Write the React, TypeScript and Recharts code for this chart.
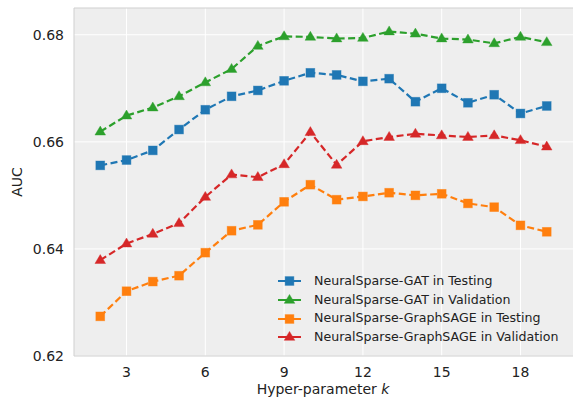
import React from 'react';
import {
  LineChart, Line, XAxis, YAxis, CartesianGrid, Label, ReferenceLine,
} from 'recharts';

const kValues = [2, 3, 4, 5, 6, 7, 8, 9, 10, 11, 12, 13, 14, 15, 16, 17, 18, 19];
const gatTesting = [0.6556, 0.6566, 0.6584, 0.6623, 0.6660, 0.6685, 0.6696, 0.6714, 0.6729, 0.6725, 0.6713, 0.6718, 0.6675, 0.6700, 0.6673, 0.6688, 0.6653, 0.6667];
const gatValidation = [0.6619, 0.6649, 0.6664, 0.6685, 0.6711, 0.6736, 0.6779, 0.6797, 0.6796, 0.6793, 0.6794, 0.6806, 0.6802, 0.6793, 0.6791, 0.6784, 0.6796, 0.6786];
const sageTesting = [0.6274, 0.6321, 0.6339, 0.6350, 0.6393, 0.6434, 0.6445, 0.6488, 0.6520, 0.6492, 0.6498, 0.6505, 0.6500, 0.6503, 0.6485, 0.6478, 0.6444, 0.6432];
const sageValidation = [0.6379, 0.6410, 0.6428, 0.6448, 0.6497, 0.6539, 0.6534, 0.6558, 0.6618, 0.6557, 0.6601, 0.6609, 0.6615, 0.6612, 0.6609, 0.6612, 0.6603, 0.6591];
const xTicks = [3, 6, 9, 12, 15, 18];
const yTicks = [0.62, 0.64, 0.66, 0.68];

const data = kValues.map((k, i) => ({
  k,
  gatTest: gatTesting[i],
  gatVal: gatValidation[i],
  sageTest: sageTesting[i],
  sageVal: sageValidation[i],
}));

const series = [
  { key: 'gatTest', name: 'NeuralSparse-GAT in Testing', color: '#1f77b4', marker: 'square' },
  { key: 'gatVal', name: 'NeuralSparse-GAT in Validation', color: '#2ca02c', marker: 'triangle' },
  { key: 'sageTest', name: 'NeuralSparse-GraphSAGE in Testing', color: '#ff7f0e', marker: 'square' },
  { key: 'sageVal', name: 'NeuralSparse-GraphSAGE in Validation', color: '#d62728', marker: 'triangle' },
];

const FONT = '"DejaVu Sans", sans-serif';

function Marker({ cx, cy, color, shape }: { cx: number; cy: number; color: string; shape: string }) {
  if (cx == null || cy == null) return null;
  if (shape === 'square') {
    return <rect x={cx - 4.4} y={cy - 4.4} width={8.8} height={8.8} fill={color} stroke={color} strokeOpacity={0.5} strokeWidth={0.8} />;
  }
  const r = 5.6;
  const pts = `${cx},${cy - r} ${cx + r * 0.95},${cy + r * 0.6} ${cx - r * 0.95},${cy + r * 0.6}`;
  return <polygon points={pts} fill={color} stroke={color} strokeOpacity={0.5} strokeWidth={0.8} />;
}

// drawn over the plot by hand, so it takes no room from the axes
function LegendBox() {
  return (
    <div style={{ position: 'absolute', left: 278, top: 272, fontFamily: FONT, fontSize: 12.6, color: '#222', lineHeight: 1 }}>
      {series.map((s) => (
        <div key={s.key} style={{ display: 'flex', alignItems: 'center', height: 18.7, whiteSpace: 'nowrap' }}>
          <svg width={36} height={14}>
            <line x1={0} y1={7} x2={23} y2={7} stroke={s.color} strokeWidth={2} />
            <Marker cx={11.5} cy={7} color={s.color} shape={s.marker} />
          </svg>
          <span>{s.name}</span>
        </div>
      ))}
    </div>
  );
}

export default function App() {
  return (
    <div style={{ position: 'relative', width: 573, height: 401, background: '#fff' }}>
      <style>{'body{margin:0}'}</style>
      <LineChart width={573} height={401} data={data} margin={{ top: 8, right: 0, left: 0, bottom: 0 }}>
        <CartesianGrid stroke="#ffffff" strokeWidth={1} fill="#eeeeee" verticalValues={xTicks} horizontalValues={yTicks} />
        <XAxis
          type="number"
          dataKey="k"
          domain={[1, 20]}
          ticks={xTicks}
          allowDataOverflow
          height={45}
          tickSize={0}
          tickMargin={11}
          tickLine={false}
          axisLine={{ stroke: '#cfcfcf', strokeWidth: 1 }}
          tick={{ fill: '#222', fontSize: 14, fontFamily: FONT }}
        >
          <Label
            content={() => (
              <text x={323} y={394} textAnchor="middle" fill="#222" fontSize={14} fontFamily={FONT}>
                Hyper-parameter <tspan fontStyle="italic">k</tspan>
              </text>
            )}
          />
        </XAxis>
        <YAxis
          type="number"
          domain={[0.62, 0.685]}
          ticks={yTicks}
          allowDataOverflow
          width={74}
          tickSize={0}
          tickMargin={10}
          tickLine={false}
          axisLine={{ stroke: '#cfcfcf', strokeWidth: 1 }}
          tickFormatter={(v: number) => v.toFixed(2)}
          tick={{ fill: '#222', fontSize: 14, fontFamily: FONT }}
        >
          <Label
            content={() => (
              <text x={22} y={182} textAnchor="middle" fill="#222" fontSize={14} fontFamily={FONT} transform="rotate(-90 22 182)">
                AUC
              </text>
            )}
          />
        </YAxis>
        <ReferenceLine y={0.685} stroke="#cfcfcf" strokeWidth={1} ifOverflow="visible" />
        {series.map((s) => (
          <Line
            key={s.key}
            type="linear"
            dataKey={s.key}
            name={s.name}
            stroke={s.color}
            strokeWidth={2.2}
            strokeDasharray="7 3.5"
            isAnimationActive={false}
            dot={(p: any) => <Marker key={`${s.key}-${p.index}`} cx={p.cx} cy={p.cy} color={s.color} shape={s.marker} />}
            activeDot={false}
          />
        ))}
      </LineChart>
      <LegendBox />
    </div>
  );
}
